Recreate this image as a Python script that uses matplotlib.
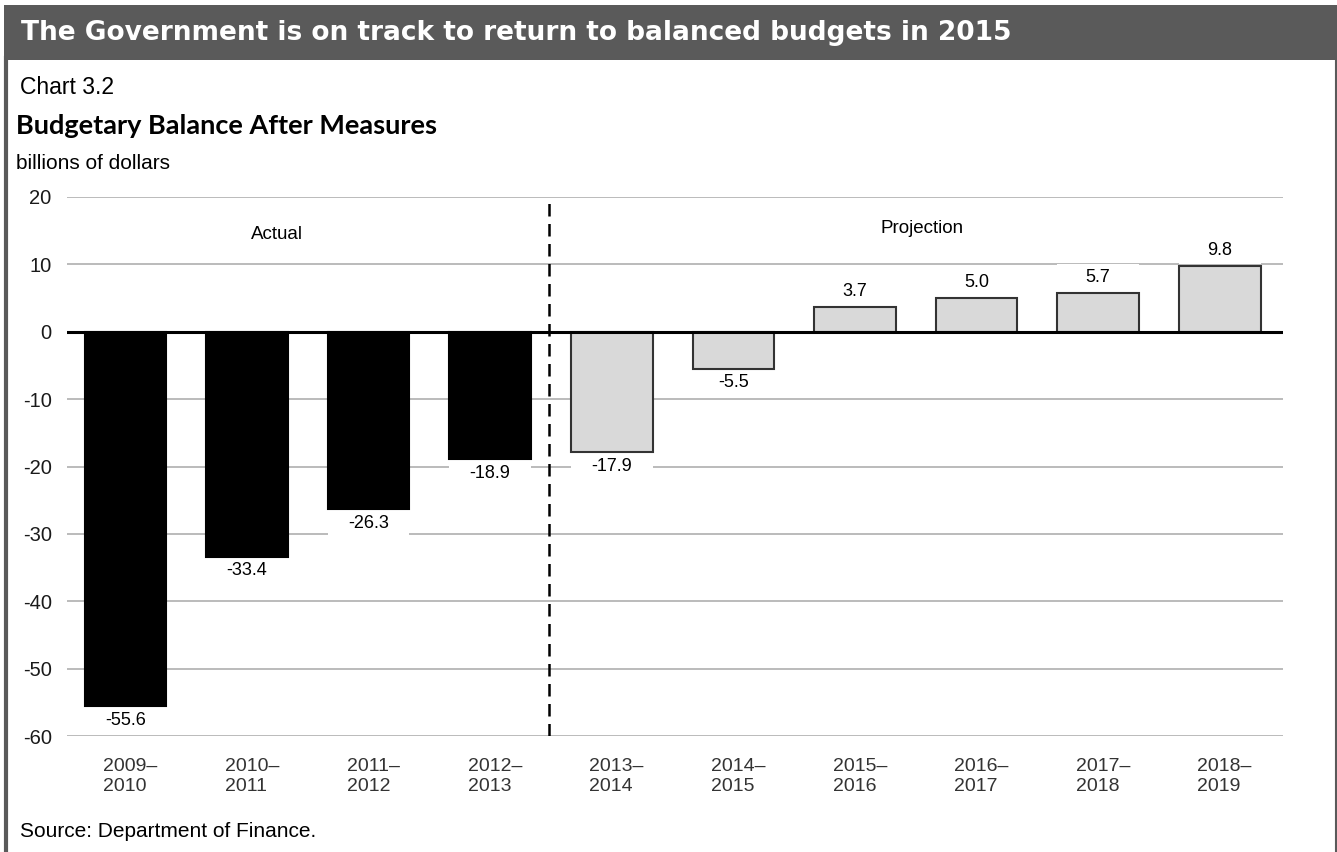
import matplotlib
matplotlib.use("Agg")
import matplotlib.pyplot as plt
from matplotlib.patches import Rectangle
from matplotlib.lines import Line2D

# data
years = ["2009–\n2010", "2010–\n2011", "2011–\n2012", "2012–\n2013", "2013–\n2014",
         "2014–\n2015", "2015–\n2016", "2016–\n2017", "2017–\n2018", "2018–\n2019"]
balance = [-55.6, -33.4, -26.3, -18.9, -17.9, -5.5, 3.7, 5.0, 5.7, 9.8]
n_actual = 4
yticks = [20, 10, 0, -10, -20, -30, -40, -50, -60]

plt.rcParams['font.family'] = ['Liberation Sans', 'DejaVu Sans']

fig = plt.figure(figsize=(13.37, 8.52), dpi=100)
W, H = 1337, 852

# header band and side frame
fig.patches.append(Rectangle((4 / W, 1 - 60 / H), 1, 55 / H, transform=fig.transFigure,
                             facecolor='#5a5a5a', edgecolor='none', zorder=0))
fig.lines.append(Line2D([5.5 / W, 5.5 / W], [0, 1 - 58 / H], transform=fig.transFigure,
                        color='#5a5a5a', lw=3))
fig.lines.append(Line2D([1335.5 / W, 1335.5 / W], [0, 1 - 58 / H], transform=fig.transFigure,
                        color='#5a5a5a', lw=1.5))

fig.text(21 / W, 1 - 40 / H, "The Government is on track to return to balanced budgets in 2015",
         color='white', fontsize=19, fontweight='bold', family=['DejaVu Sans'],
         va='baseline', ha='left')
fig.text(20 / W, 1 - 94 / H, "Chart 3.2", fontsize=16.5, va='baseline', ha='left')
fig.text(16 / W, 1 - 134 / H, "Budgetary Balance After Measures", fontsize=19.5,
         fontweight='bold', family=['Lato', 'DejaVu Sans'], va='baseline', ha='left')
fig.text(16 / W, 1 - 169 / H, "billions of dollars", fontsize=15, va='baseline', ha='left')
fig.text(20 / W, 1 - 837 / H, "Source: Department of Finance.", fontsize=15,
         va='baseline', ha='left')

ax = fig.add_axes([67 / W, 1 - 736 / H, (1283 - 67) / W, (736 - 197) / H])
x = list(range(len(balance)))
colors = ['black' if i < n_actual else '#d9d9d9' for i in x]
edges = ['black' if i < n_actual else '#333333' for i in x]
ax.bar(x, balance, width=0.67, color=colors, edgecolor=edges, linewidth=1.5, zorder=3)

ax.set_xlim(-0.48, 9.52)
ax.set_ylim(-60, 20)
ax.set_yticks(yticks)
ax.set_yticklabels([str(v) for v in yticks], fontsize=14.5, color='#1a1a1a')
# labels sit a touch right of the bar centres in the original
ax.set_xticks([i + 0.04 for i in x])
ax.set_xticklabels(years, fontsize=14, color='#333333', multialignment='left')
ax.tick_params(axis='x', length=0, pad=16)
ax.tick_params(axis='y', length=0, pad=11)
for s in ax.spines.values():
    s.set_visible(False)
ax.grid(axis='y', color='#b5b5b5', lw=1.3, zorder=0)
ax.set_axisbelow(True)
ax.axhline(0, color='black', lw=2.2, zorder=4)
ax.axvline(n_actual - 0.52, color='black', lw=1.8, ls=(0, (5, 3)), zorder=4)

# value labels sit in white boxes that break the gridlines
box_h = 4.0
for xi, v in zip(x, balance):
    if v < 0:
        ax.bar(xi, -box_h, bottom=v - 0.3, width=0.67, color='white', zorder=1)
        ax.text(xi, v - 2.1, f"{v:.1f}", ha='center', va='center', fontsize=13, zorder=5)
    else:
        ax.bar(xi, box_h, bottom=v + 0.3, width=0.67, color='white', zorder=1)
        ax.text(xi, v + 2.3, f"{v:.1f}", ha='center', va='center', fontsize=13, zorder=5)

ax.text(1.25, 14.4, "Actual", ha='center', va='center', fontsize=13.5)
ax.text(6.55, 15.3, "Projection", ha='center', va='center', fontsize=13.5)

fig.savefig("out.png", dpi=100)
